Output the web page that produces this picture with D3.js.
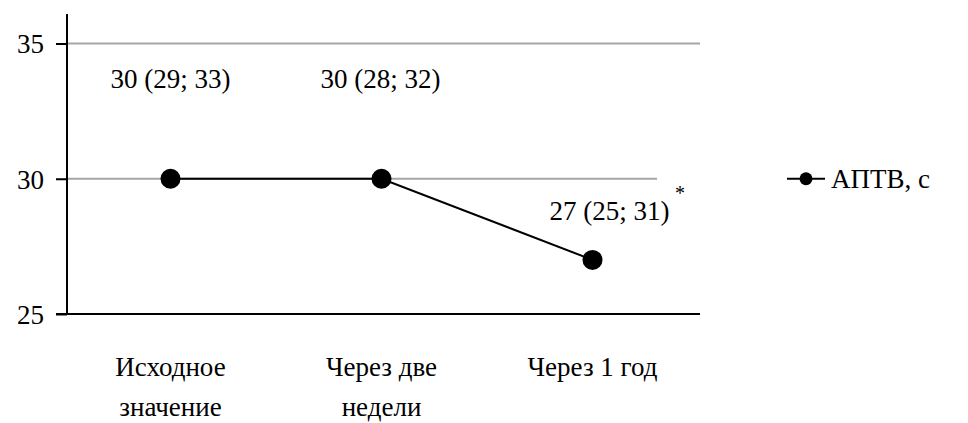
<!DOCTYPE html>
<html><head><meta charset="utf-8">
<script src="https://cdn.jsdelivr.net/npm/d3@7"></script>
</head><body style="margin:0;background:#fff">
<svg id="c" width="968" height="423" style="display:block"></svg>
<script>
const categories = [["Исходное","значение"],["Через две","недели"],["Через 1 год"]];
const values = [30, 30, 27];
const valueLabels = ["30 (29; 33)","30 (28; 32)","27 (25; 31)"];
const yTicks = [25, 30, 35];
const seriesName = "АПТВ, с";

const FONT = "Liberation Serif";
const chart = d3.select("#c");
const mLeft = 67, mRight = 700, mTop = 14, mBottom = 314;
const xScale = d3.scaleBand().domain(d3.range(categories.length)).range([mLeft, mRight]);
const yScale = d3.scaleLinear().domain([25, 35]).range([mBottom, 43.5]);
const FS = 27;
function serif(sel, size) {
  return sel.attr("font-family", FONT).attr("font-size", size)
    .style("font-family", FONT, "important").style("font-size", size + "px", "important")
    .style("fill", "#000");
}

chart.append("g").selectAll("line").data(yTicks.filter(t => t > 25)).join("line")
  .attr("x1", mLeft).attr("x2", mRight).attr("y1", d => yScale(d)).attr("y2", d => yScale(d))
  .attr("stroke", "#a6a6a6").attr("stroke-width", 2);
chart.append("rect").attr("x", 657).attr("y", yScale(30) - 3).attr("width", 50).attr("height", 6).attr("fill", "#fff");

const ya = chart.append("g").attr("transform", `translate(${mLeft},0)`)
  .call(d3.axisLeft(yScale).tickValues(yTicks).tickSize(11).tickPadding(12));
ya.select(".domain").remove();
ya.selectAll(".tick line").attr("stroke", "#000").attr("stroke-width", 2);
serif(ya.selectAll(".tick text"), FS).attr("dy", "0.35em");
chart.append("line").attr("x1", mLeft).attr("x2", mLeft).attr("y1", mTop).attr("y2", mBottom)
  .attr("stroke", "#000").attr("stroke-width", 2);
chart.append("line").attr("x1", mLeft - 11).attr("x2", mRight).attr("y1", mBottom).attr("y2", mBottom)
  .attr("stroke", "#000").attr("stroke-width", 2);

const cx = i => xScale(i) + xScale.bandwidth() / 2 - 2;
categories.forEach((lines, i) => {
  const t = serif(chart.append("text").attr("text-anchor", "middle"), FS);
  lines.forEach((l, j) => t.append("tspan").attr("x", cx(i)).attr("y", 376 + j * 40).text(l));
});

const lineGen = d3.line().x((d, i) => cx(i)).y(d => yScale(d));
chart.append("path").datum(values).attr("d", lineGen).attr("fill", "none")
  .attr("stroke", "#000").attr("stroke-width", 2);
chart.append("g").selectAll("circle").data(values).join("circle")
  .attr("cx", (d, i) => cx(i)).attr("cy", d => yScale(d)).attr("r", 10).attr("fill", "#000");

const labDx = [0, -1, 17], labDy = [-91, -91, -40];
serif(chart.append("g").selectAll("text").data(valueLabels).join("text"), FS)
  .attr("text-anchor", "middle")
  .attr("x", (d, i) => cx(i) + labDx[i]).attr("y", (d, i) => yScale(values[i]) + labDy[i])
  .text(d => d);
serif(chart.append("text"), 20).attr("x", 680).attr("y", 200).attr("text-anchor", "middle").text("*");

const ly = yScale(30);
chart.append("line").attr("x1", 787).attr("x2", 825).attr("y1", ly).attr("y2", ly)
  .attr("stroke", "#000").attr("stroke-width", 2);
chart.append("circle").attr("cx", 806).attr("cy", ly).attr("r", 6.5).attr("fill", "#000");
serif(chart.append("text"), FS).attr("x", 831).attr("y", ly + 9).text(seriesName);
</script>
</body></html>
